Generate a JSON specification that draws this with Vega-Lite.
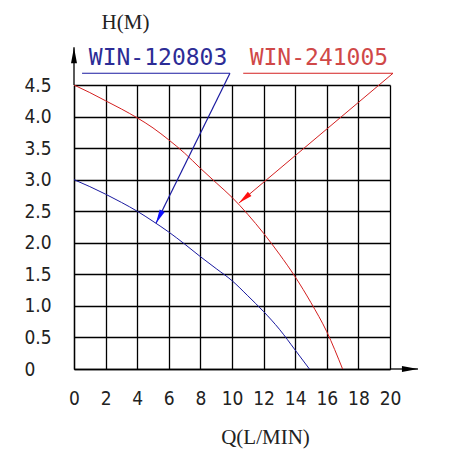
{
  "$schema": "https://vega.github.io/schema/vega-lite/v6.json",
  "autosize": {"type": "none"},
  "padding": {"left": 74, "top": 85, "right": 81, "bottom": 81},
  "width": 316,
  "height": 284,
  "background": "white",
  "datasets": {
    "models": [
      {"model": "WIN-120803"},
      {"model": "WIN-241005"}
    ],
    "curves": [
      {"model": "WIN-120803", "q": 0, "h": 3.0},
      {"model": "WIN-120803", "q": 1, "h": 2.89},
      {"model": "WIN-120803", "q": 2, "h": 2.77},
      {"model": "WIN-120803", "q": 3, "h": 2.64},
      {"model": "WIN-120803", "q": 4, "h": 2.5},
      {"model": "WIN-120803", "q": 5, "h": 2.34},
      {"model": "WIN-120803", "q": 6, "h": 2.17},
      {"model": "WIN-120803", "q": 7, "h": 1.98},
      {"model": "WIN-120803", "q": 8, "h": 1.78},
      {"model": "WIN-120803", "q": 9, "h": 1.59},
      {"model": "WIN-120803", "q": 10, "h": 1.4},
      {"model": "WIN-120803", "q": 11, "h": 1.16},
      {"model": "WIN-120803", "q": 12, "h": 0.91},
      {"model": "WIN-120803", "q": 13, "h": 0.63},
      {"model": "WIN-120803", "q": 14, "h": 0.3},
      {"model": "WIN-120803", "q": 14.9, "h": 0},
      {"model": "WIN-241005", "q": 0, "h": 4.5},
      {"model": "WIN-241005", "q": 1, "h": 4.38},
      {"model": "WIN-241005", "q": 2, "h": 4.25},
      {"model": "WIN-241005", "q": 3, "h": 4.12},
      {"model": "WIN-241005", "q": 4, "h": 3.98},
      {"model": "WIN-241005", "q": 5, "h": 3.82},
      {"model": "WIN-241005", "q": 6, "h": 3.63},
      {"model": "WIN-241005", "q": 7, "h": 3.42},
      {"model": "WIN-241005", "q": 8, "h": 3.18},
      {"model": "WIN-241005", "q": 9, "h": 2.95},
      {"model": "WIN-241005", "q": 10, "h": 2.72},
      {"model": "WIN-241005", "q": 11, "h": 2.45},
      {"model": "WIN-241005", "q": 12, "h": 2.15},
      {"model": "WIN-241005", "q": 13, "h": 1.82},
      {"model": "WIN-241005", "q": 14, "h": 1.46},
      {"model": "WIN-241005", "q": 15, "h": 1.05},
      {"model": "WIN-241005", "q": 16, "h": 0.59},
      {"model": "WIN-241005", "q": 17, "h": 0}
    ]
  },
  "config": {
    "view": {"stroke": null},
    "axis": {
      "grid": true,
      "gridColor": "black",
      "gridWidth": 1.3,
      "gridOpacity": 1,
      "domain": true,
      "domainColor": "black",
      "domainWidth": 1.3,
      "ticks": false,
      "tickSize": 0,
      "labelOverlap": false,
      "labelFont": "DejaVu Sans Condensed, DejaVu Sans",
      "labelFontSize": 19,
      "labelColor": "#222",
      "titleFont": "Liberation Serif",
      "titleFontSize": 21,
      "titleFontWeight": "normal",
      "titleColor": "#222"
    }
  },
  "encoding": {
    "x": {
      "type": "quantitative",
      "scale": {"domain": [0, 20], "nice": false, "zero": true},
      "axis": {
        "tickCount": 30,
        "values": [0, 2, 4, 6, 8, 10, 12, 14, 16, 18, 20],
        "format": "d",
        "labelOverlap": false,
        "labelPadding": 20,
        "labelBaseline": "top",
        "labelAlign": "center",
        "title": "Q(L/MIN)",
        "titleX": 191,
        "titleY": 68,
        "titleAlign": "center",
        "titleBaseline": "middle"
      }
    },
    "y": {
      "type": "quantitative",
      "scale": {"domain": [0, 4.5], "nice": false, "zero": true},
      "axis": {
        "tickCount": 30,
        "values": [0, 0.5, 1, 1.5, 2, 2.5, 3, 3.5, 4, 4.5],
        "labelOverlap": false,
        "labelExpr": "datum.value == 0 ? '0' : format(datum.value, '.1f')",
        "labelAlign": "left",
        "labelBaseline": "middle",
        "labelPadding": 50,
        "title": "H(M)",
        "titleAngle": 0,
        "titleX": 51,
        "titleY": -63,
        "titleAlign": "center",
        "titleBaseline": "middle"
      }
    }
  },
  "layer": [
    {
      "data": {"name": "curves"},
      "mark": {"type": "line", "interpolate": "monotone", "strokeWidth": 1, "clip": false},
      "encoding": {
        "x": {"field": "q", "type": "quantitative"},
        "y": {"field": "h", "type": "quantitative"},
        "color": {
          "field": "model", "type": "nominal",
          "scale": {"domain": ["WIN-120803", "WIN-241005"], "range": ["#1a1aa0", "#d42020"]},
          "legend": null
        }
      }
    },
    {
      "data": {"name": "models"},
      "transform": [{"filter": "datum.model == 'WIN-120803'"}],
      "layer": [
        {
          "mark": {"type": "rule", "color": "black", "strokeWidth": 1.3, "clip": false},
          "encoding": {
            "x": {"datum": 20, "type": "quantitative"},
            "x2": {"datum": 21.77},
            "y": {"datum": 0, "type": "quantitative"}
          }
        },
        {
          "mark": {"type": "rule", "color": "black", "strokeWidth": 1.3, "clip": false},
          "encoding": {
            "x": {"datum": 0, "type": "quantitative"},
            "y": {"datum": 4.5, "type": "quantitative"},
            "y2": {"datum": 5.1}
          }
        },
        {
          "mark": {"type": "point", "shape": "M-4,-0.75L0,0L-4,0.75Z", "filled": true, "color": "black", "opacity": 1, "size": 64, "strokeWidth": 0, "clip": false},
          "encoding": {
            "x": {"datum": 21.77, "type": "quantitative"},
            "y": {"datum": 0, "type": "quantitative"}
          }
        },
        {
          "mark": {"type": "point", "shape": "M-0.75,4L0,0L0.75,4Z", "filled": true, "color": "black", "opacity": 1, "size": 64, "strokeWidth": 0, "clip": false},
          "encoding": {
            "x": {"datum": 0, "type": "quantitative"},
            "y": {"datum": 5.1, "type": "quantitative"}
          }
        },
        {
          "mark": {"type": "rule", "color": "#1a1aa0", "strokeWidth": 1.2, "clip": false},
          "encoding": {
            "x": {"datum": 0.51, "type": "quantitative"},
            "x2": {"datum": 9.87},
            "y": {"datum": 4.686, "type": "quantitative"}
          }
        },
        {
          "mark": {"type": "rule", "color": "#1a1aa0", "strokeWidth": 1.2, "clip": false},
          "encoding": {
            "x": {"datum": 9.87, "type": "quantitative"},
            "x2": {"datum": 5.19},
            "y": {"datum": 4.686, "type": "quantitative"},
            "y2": {"datum": 2.31}
          }
        },
        {
          "mark": {"type": "point", "shape": "M0,0L-0.7,3.5L0.7,3.5Z", "filled": true, "color": "#1010ff", "opacity": 1, "size": 64, "strokeWidth": 0, "angle": 206.3, "clip": false},
          "encoding": {
            "x": {"datum": 5.19, "type": "quantitative"},
            "y": {"datum": 2.31, "type": "quantitative"}
          }
        },
        {
          "mark": {"type": "text", "font": "DejaVu Sans Mono", "fontSize": 23, "color": "#2c2c96", "align": "center", "baseline": "middle", "clip": false},
          "encoding": {
            "text": {"field": "model"},
            "x": {"datum": 5.32, "type": "quantitative"},
            "y": {"datum": 4.93, "type": "quantitative"}
          }
        }
      ]
    },
    {
      "data": {"name": "models"},
      "transform": [{"filter": "datum.model == 'WIN-241005'"}],
      "layer": [
        {
          "mark": {"type": "rule", "color": "#d42020", "strokeWidth": 1, "clip": false},
          "encoding": {
            "x": {"datum": 10.71, "type": "quantitative"},
            "x2": {"datum": 20.19},
            "y": {"datum": 4.686, "type": "quantitative"}
          }
        },
        {
          "mark": {"type": "rule", "color": "#d42020", "strokeWidth": 1, "clip": false},
          "encoding": {
            "x": {"datum": 20.19, "type": "quantitative"},
            "x2": {"datum": 10.44},
            "y": {"datum": 4.686, "type": "quantitative"},
            "y2": {"datum": 2.63}
          }
        },
        {
          "mark": {"type": "point", "shape": "M0,0L-0.7,3.5L0.7,3.5Z", "filled": true, "color": "#ff1010", "opacity": 1, "size": 64, "strokeWidth": 0, "angle": 229.8, "clip": false},
          "encoding": {
            "x": {"datum": 10.44, "type": "quantitative"},
            "y": {"datum": 2.63, "type": "quantitative"}
          }
        },
        {
          "mark": {"type": "text", "font": "DejaVu Sans Mono", "fontSize": 23, "color": "#d04848", "align": "center", "baseline": "middle", "clip": false},
          "encoding": {
            "text": {"field": "model"},
            "x": {"datum": 15.5, "type": "quantitative"},
            "y": {"datum": 4.93, "type": "quantitative"}
          }
        }
      ]
    }
  ]
}
